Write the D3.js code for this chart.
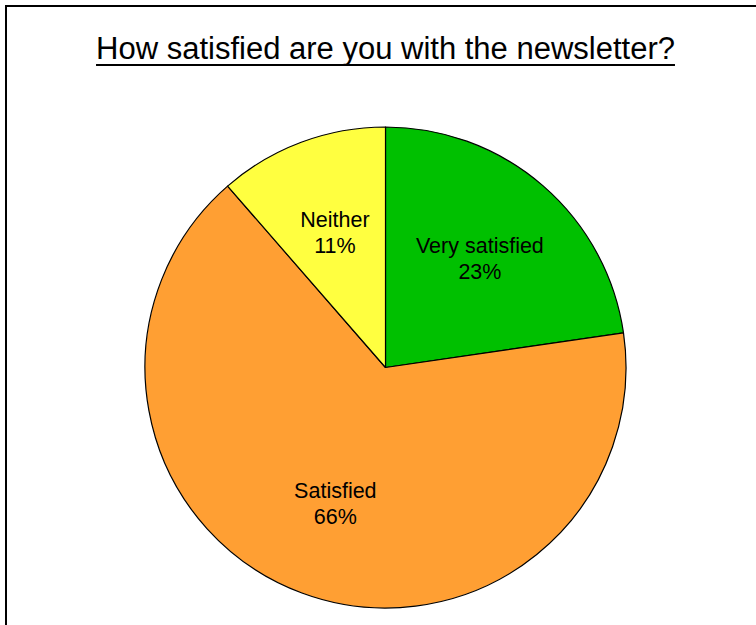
<!DOCTYPE html>
<html>
<head>
<meta charset="utf-8">
<script src="https://cdn.jsdelivr.net/npm/d3@7/dist/d3.min.js"></script>
<style>
  html, body { margin: 0; padding: 0; background: #fff; }
  svg { display: block; }
</style>
</head>
<body>
<div id="chart"></div>
<script>
const categories = ["Very satisfied", "Satisfied", "Neither"];
const values = [22.7, 65.9, 11.4];
const colors = ["#00C000", "#FF9F33", "#FFFF40"];
const title = "How satisfied are you with the newsletter?";

const width = 756, height = 625;
const cx = 385.5, cy = 367.5, radius = 240.5;

const svg = d3.select("#chart").append("svg")
    .attr("width", width)
    .attr("height", height);

// chart frame (runs off the right and bottom of the page)
svg.append("rect")
    .attr("x", 6)
    .attr("y", 6)
    .attr("width", width + 20)
    .attr("height", height + 20)
    .attr("fill", "#fff")
    .attr("stroke", "#000")
    .attr("stroke-width", 2);

const titleText = svg.append("text")
    .attr("x", cx)
    .attr("y", 59)
    .attr("text-anchor", "middle")
    .style("font-family", "'Liberation Sans', Arial, sans-serif")
    .style("font-size", "31px")
    .attr("fill", "#000")
    .text(title);

const tw = titleText.node().getComputedTextLength();
svg.append("line")
    .attr("x1", cx - tw / 2)
    .attr("x2", cx + tw / 2)
    .attr("y1", 65)
    .attr("y2", 65)
    .attr("stroke", "#000")
    .attr("stroke-width", 2);

const pie = d3.pie().sort(null).value(d => d);
const arcs = pie(values);
const arc = d3.arc().innerRadius(0).outerRadius(radius);
const labelArc = d3.arc().innerRadius(radius * 0.6).outerRadius(radius * 0.6);

const g = svg.append("g").attr("transform", `translate(${cx},${cy})`);

g.selectAll("path.slice")
    .data(arcs)
    .enter()
    .append("path")
    .attr("class", "slice")
    .attr("d", arc)
    .attr("fill", (d, i) => colors[i])
    .attr("stroke", "#000")
    .attr("stroke-width", 1.2)
    .attr("stroke-linejoin", "round");

const labels = g.selectAll("text.lbl")
    .data(arcs)
    .enter()
    .append("text")
    .attr("class", "lbl")
    .attr("transform", d => `translate(${labelArc.centroid(d)})`)
    .attr("text-anchor", "middle")
    .style("font-family", "'Liberation Sans', Arial, sans-serif")
    .style("font-size", "21.5px")
    .attr("fill", "#000");

labels.append("tspan")
    .attr("x", 0)
    .attr("y", -5)
    .text((d, i) => categories[i]);

labels.append("tspan")
    .attr("x", 0)
    .attr("y", 21)
    .text(d => Math.round(d.data) + "%");
</script>
</body>
</html>
